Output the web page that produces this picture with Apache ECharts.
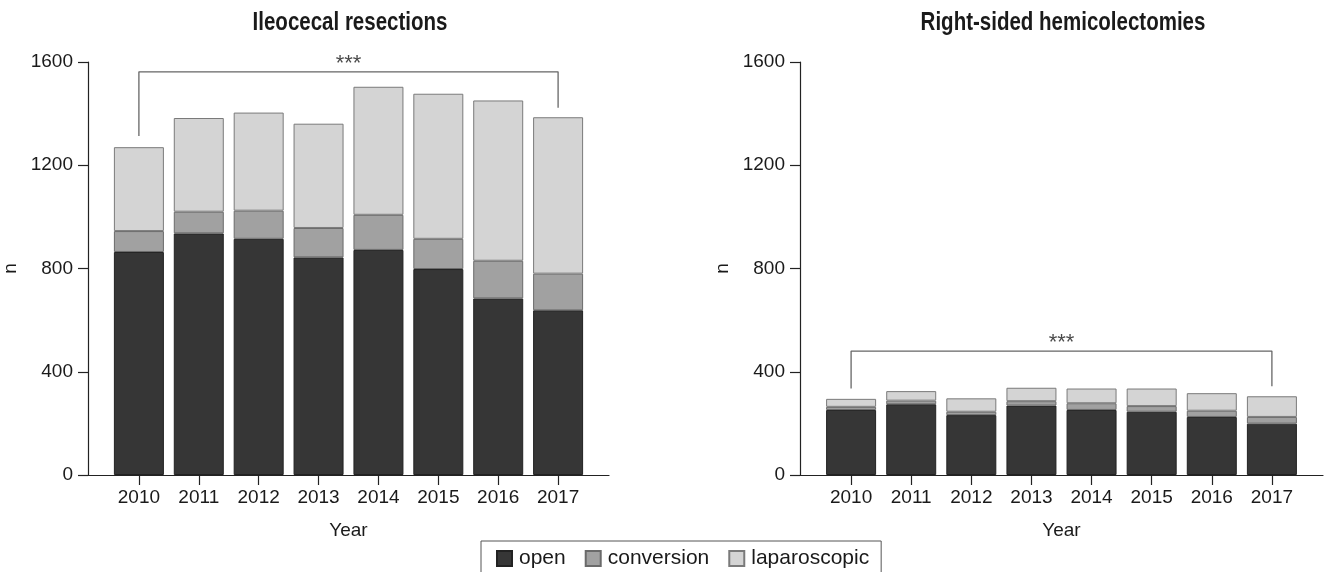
<!DOCTYPE html>
<html>
<head>
<meta charset="utf-8">
<script src="https://cdn.jsdelivr.net/npm/echarts@6/dist/echarts.min.js"></script>
<style>
html,body{margin:0;padding:0;background:#fff;}
#chart{width:1327px;height:572px;}
</style>
</head>
<body>
<div id="chart"></div>
<script>
// ---- data ----
const years = [2010, 2011, 2012, 2013, 2014, 2015, 2016, 2017];
const yTicks = [0, 400, 800, 1200, 1600];
const seriesNames = ['open', 'conversion', 'laparoscopic'];
const titles = ['Ileocecal resections', 'Right-sided hemicolectomies'];

// Ileocecal resections
const ileoOpen = [864, 936, 915, 843, 872, 798, 684, 638];
const ileoConversion = [81, 84, 109, 114, 136, 117, 146, 142];
const ileoLaparoscopic = [325, 363, 380, 404, 496, 562, 621, 606];

// Right-sided hemicolectomies
const rightOpen = [252, 274, 232, 269, 252, 245, 225, 199];
const rightConversion = [12, 14, 13, 17, 26, 22, 24, 26];
const rightLaparoscopic = [31, 37, 52, 52, 57, 68, 68, 80];

// significance brackets
const ileoBracket = {from: 2010, to: 2017, leftEnd: 1313, height: 1562, rightEnd: 1423, label: '***'};
const rightBracket = {from: 2010, to: 2017, leftEnd: 335, height: 480, rightEnd: 344, label: '***'};

// ---- styles ----
const fills = ['#363636', '#a1a1a1', '#d4d4d4'];
const borders = ['#222222', '#6a6a6a', '#7a7a7a'];
const FONT = "'Liberation Sans', Arial, sans-serif";
const txt = '#1a1a1a';
const FS = 19;

const chart = echarts.init(document.getElementById('chart'), null, {renderer: 'canvas'});

// value first, year second (encode maps year to x) so stacking happens on the value dimension
function pairs(vals) { return years.map((y, i) => [vals[i], y]); }

const grids = [
  {left: 88, right: 718, top: 62, bottom: 97},
  {left: 800, right: 4, top: 62, bottom: 97}
];

function xAxisFor(i) {
  return {
    gridIndex: i, type: 'value', min: 2009.15, max: 2017.85,
    axisLine: {show: true, lineStyle: {color: '#222', width: 1.2}},
    axisTick: {show: true, customValues: years, length: 10, lineStyle: {color: '#222', width: 1.2}},
    axisLabel: {customValues: years, formatter: v => String(Math.round(v)), color: txt, fontSize: FS, fontFamily: FONT, margin: 13},
    splitLine: {show: false},
    name: 'Year', nameLocation: 'middle', nameGap: 46,
    nameTextStyle: {color: txt, fontSize: FS, fontFamily: FONT}
  };
}
function yAxisFor(i) {
  return {
    gridIndex: i, type: 'value', min: 0, max: 1600, interval: 400,
    axisLine: {show: true, lineStyle: {color: '#222', width: 1.2}},
    axisTick: {show: true, length: 10, lineStyle: {color: '#222', width: 1.2}},
    axisLabel: {formatter: v => String(v), color: txt, fontSize: FS, fontFamily: FONT, margin: 15},
    splitLine: {show: false},
    name: 'n', nameLocation: 'middle', nameGap: 68, nameRotate: 90,
    nameTextStyle: {color: txt, fontSize: FS, fontFamily: FONT}
  };
}

function barSeries(gi, datasets) {
  return datasets.map((vals, k) => ({
    name: seriesNames[k], type: 'bar', stack: 'g' + gi,
    xAxisIndex: gi, yAxisIndex: gi, barWidth: 50,
    encode: {x: 1, y: 0},
    data: pairs(vals),
    itemStyle: {color: fills[k], borderColor: borders[k], borderWidth: 1},
    emphasis: {disabled: true}, silent: true
  }));
}
function bracketSeries(gi, b) {
  return [{
    type: 'line', xAxisIndex: gi, yAxisIndex: gi, symbol: 'none', silent: true,
    data: [[b.from, b.leftEnd], [b.from, b.height], [b.to, b.height], [b.to, b.rightEnd]],
    lineStyle: {color: '#666', width: 1.3}, z: 5
  }, {
    type: 'scatter', xAxisIndex: gi, yAxisIndex: gi, symbolSize: 0, silent: true,
    data: [[(b.from + b.to) / 2, b.height]],
    label: {show: true, position: 'top', distance: -3, formatter: b.label, color: txt, fontSize: 22, fontFamily: FONT}
  }];
}

function titleText(text, cx) {
  return {
    type: 'text', x: cx, y: 23, scaleX: 0.82, silent: true,
    style: {text: text, textAlign: 'center', textVerticalAlign: 'middle',
            font: "bold 25px 'Liberation Sans', Arial, sans-serif", fill: txt}
  };
}

const option = {
  animation: false,
  backgroundColor: '#fff',
  graphic: [titleText(titles[0], 350), titleText(titles[1], 1063)],
  legend: {
    data: seriesNames, left: 481, top: 541, icon: 'rect',
    itemWidth: 15, itemHeight: 15, itemGap: 19,
    padding: [7, 12, 10, 15], borderColor: '#555', borderWidth: 1,
    textStyle: {color: txt, fontSize: 21, fontFamily: FONT, padding: [0, 0, 0, 2]},
    selectedMode: false
  },
  grid: grids,
  xAxis: [xAxisFor(0), xAxisFor(1)],
  yAxis: [yAxisFor(0), yAxisFor(1)],
  series: [
    ...barSeries(0, [ileoOpen, ileoConversion, ileoLaparoscopic]),
    ...barSeries(1, [rightOpen, rightConversion, rightLaparoscopic]),
    ...bracketSeries(0, ileoBracket),
    ...bracketSeries(1, rightBracket)
  ]
};
chart.setOption(option);
</script>
</body>
</html>
